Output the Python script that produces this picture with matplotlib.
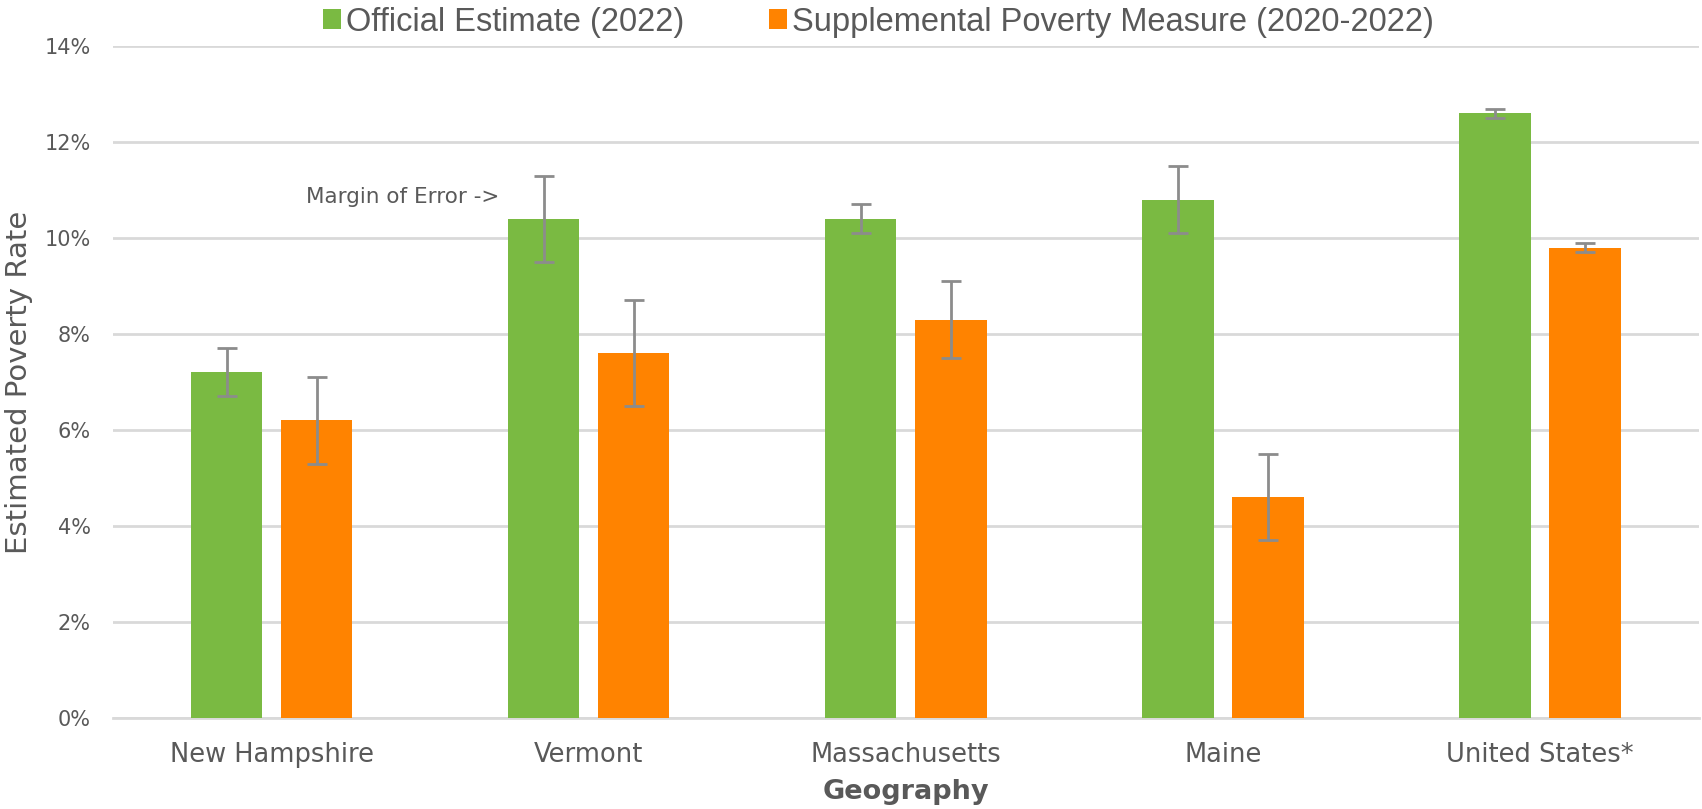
import matplotlib
matplotlib.use("Agg")
import matplotlib.pyplot as plt
import numpy as np
from matplotlib.ticker import PercentFormatter

# values, in percent
geographies = ["New Hampshire", "Vermont", "Massachusetts", "Maine", "United States*"]
official = [7.2, 10.4, 10.4, 10.8, 12.6]
official_moe = [0.5, 0.9, 0.3, 0.7, 0.1]
spm = [6.2, 7.6, 8.3, 4.6, 9.8]
spm_moe = [0.9, 1.1, 0.8, 0.9, 0.1]

GREEN = "#7aba42"
ORANGE = "#ff8300"
GREY_TXT = "#595959"
FONT = "DejaVu Sans"

fig = plt.figure(figsize=(17.02, 8.09), dpi=100)
ax = fig.add_axes([0.0664, 0.1125, 0.9316, 0.8305])

x = np.arange(len(geographies))
w = 0.225
off = 0.142
err_kw = dict(ecolor="#8c8c8c", elinewidth=2, capsize=7, capthick=2)
ax.bar(x - off, official, w, yerr=official_moe, color=GREEN,
       error_kw=err_kw, label="Official Estimate (2022)", zorder=3)
ax.bar(x + off, spm, w, yerr=spm_moe, color=ORANGE,
       error_kw=err_kw, label="Supplemental Poverty Measure (2020-2022)", zorder=3)

ax.set_xlim(-0.5, 4.5)
ax.set_ylim(0, 14)
ax.set_yticks(np.arange(0, 15, 2))
ax.yaxis.set_major_formatter(PercentFormatter(decimals=0))
ax.grid(axis="y", color="#d9d9d9", linewidth=2, zorder=0)
for s in ["top", "right", "left"]:
    ax.spines[s].set_visible(False)
ax.spines["bottom"].set_color("#d9d9d9")
ax.spines["bottom"].set_linewidth(2)
ax.tick_params(length=0)
ax.set_xticks(x)
ax.set_xticklabels(geographies, fontsize=18.5, color=GREY_TXT, family=FONT)
ax.tick_params(axis="x", pad=17)
ax.tick_params(axis="y", pad=16)
for t in ax.get_yticklabels():
    t.set_fontsize(15)
    t.set_color(GREY_TXT)
    t.set_family(FONT)

ax.set_ylabel("Estimated Poverty Rate", fontsize=21, color=GREY_TXT, family=FONT, labelpad=8)
ax.set_xlabel("Geography", fontsize=19.5, color=GREY_TXT, family=FONT,
              fontweight="bold", labelpad=8)

ax.text(0.718, 10.85, "Margin of Error ->", ha="right", va="center",
        fontsize=15.5, color=GREY_TXT, family=FONT)

leg = fig.legend(loc="upper center", bbox_to_anchor=(0.516, 1.028), ncol=2,
                 frameon=False, handlelength=0.55, handleheight=0.55,
                 handletextpad=0.15, columnspacing=2.6,
                 prop=dict(family="Liberation Sans", size=23.5))
for t in leg.get_texts():
    t.set_color(GREY_TXT)

fig.savefig("out.png", dpi=100)
